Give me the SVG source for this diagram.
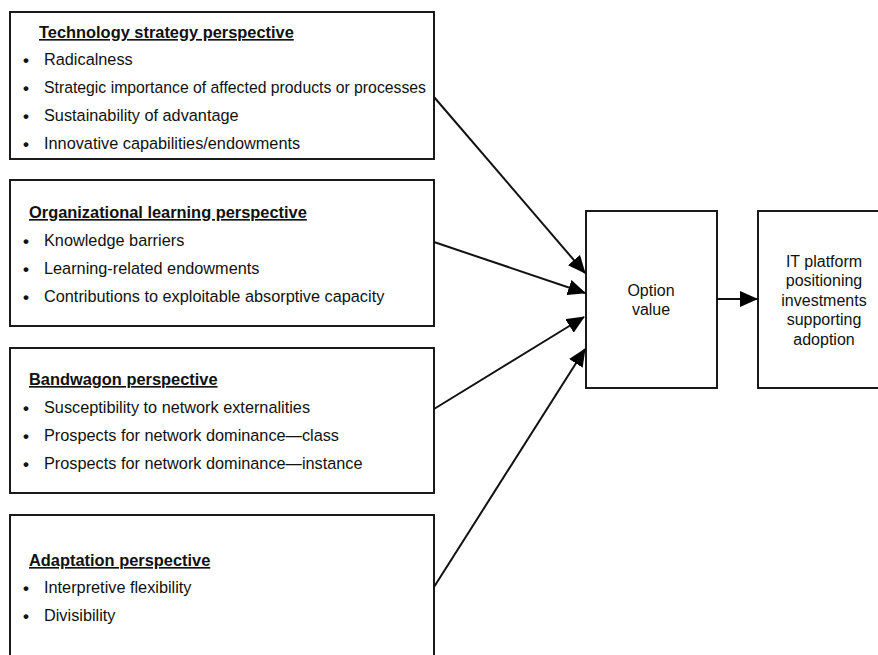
<svg xmlns="http://www.w3.org/2000/svg" width="878" height="655" viewBox="0 0 878 655">
<style>
.box{fill:#fff;stroke:#1a1a1a;stroke-width:2}
text{font-family:"Liberation Sans",Arial,sans-serif;font-size:16.3px;fill:#111}
.t{font-weight:bold;text-decoration:underline;font-size:16.4px}
.c{text-anchor:middle;font-size:16px}
.b{font-size:17px;font-weight:bold}
.conn{stroke:#111;stroke-width:2;fill:none}
</style>
<defs>
<marker id="ah" markerWidth="18" markerHeight="16" refX="17" refY="8" orient="auto" markerUnits="userSpaceOnUse">
<path d="M0,0 L18,8 L0,16 Z" fill="#000"/>
</marker>
</defs>
<rect width="878" height="655" fill="#fff"/>
<g id="tech">
<rect class="box" x="10" y="12" width="424" height="147"/>
<text class="t" x="39" y="38">Technology strategy perspective</text>
<text class="b" x="23" y="66">•</text><text x="44" y="65">Radicalness</text>
<text class="b" x="23" y="94">•</text><text x="44" y="93" textLength="382" lengthAdjust="spacingAndGlyphs">Strategic importance of affected products or processes</text>
<text class="b" x="23" y="122">•</text><text x="44" y="121">Sustainability of advantage</text>
<text class="b" x="23" y="150">•</text><text x="44" y="149">Innovative capabilities/endowments</text>
</g>
<g id="org">
<rect class="box" x="10" y="180" width="424" height="146"/>
<text class="t" x="29" y="218">Organizational learning perspective</text>
<text class="b" x="23" y="247">•</text><text x="44" y="246">Knowledge barriers</text>
<text class="b" x="23" y="275">•</text><text x="44" y="274">Learning-related endowments</text>
<text class="b" x="23" y="303">•</text><text x="44" y="302">Contributions to exploitable absorptive capacity</text>
</g>
<g id="band">
<rect class="box" x="10" y="348" width="424" height="145"/>
<text class="t" x="29" y="385">Bandwagon perspective</text>
<text class="b" x="23" y="414">•</text><text x="44" y="413">Susceptibility to network externalities</text>
<text class="b" x="23" y="442">•</text><text x="44" y="441">Prospects for network dominance—class</text>
<text class="b" x="23" y="470">•</text><text x="44" y="469">Prospects for network dominance—instance</text>
</g>
<g id="adapt">
<rect class="box" x="10" y="515" width="424" height="160"/>
<text class="t" x="29" y="566">Adaptation perspective</text>
<text class="b" x="23" y="594">•</text><text x="44" y="593">Interpretive flexibility</text>
<text class="b" x="23" y="622">•</text><text x="44" y="621">Divisibility</text>
</g>
<g id="option">
<rect class="box" x="586" y="211" width="131" height="177"/>
<text class="c" x="651" y="296">Option</text>
<text class="c" x="651" y="315">value</text>
</g>
<g id="it">
<rect class="box" x="758" y="211" width="140" height="177"/>
<text class="c" x="824" y="267">IT platform</text>
<text class="c" x="824" y="286">positioning</text>
<text class="c" x="824" y="306">investments</text>
<text class="c" x="824" y="325">supporting</text>
<text class="c" x="824" y="345">adoption</text>
</g>
<g id="connectors">
<line class="conn" x1="434" y1="97" x2="585" y2="273" marker-end="url(#ah)"/>
<line class="conn" x1="434" y1="242" x2="585" y2="293" marker-end="url(#ah)"/>
<line class="conn" x1="434" y1="409" x2="584" y2="317" marker-end="url(#ah)"/>
<line class="conn" x1="434" y1="587" x2="585" y2="349" marker-end="url(#ah)"/>
<line class="conn" x1="717" y1="299" x2="757" y2="299" marker-end="url(#ah)"/>
</g>
</svg>
